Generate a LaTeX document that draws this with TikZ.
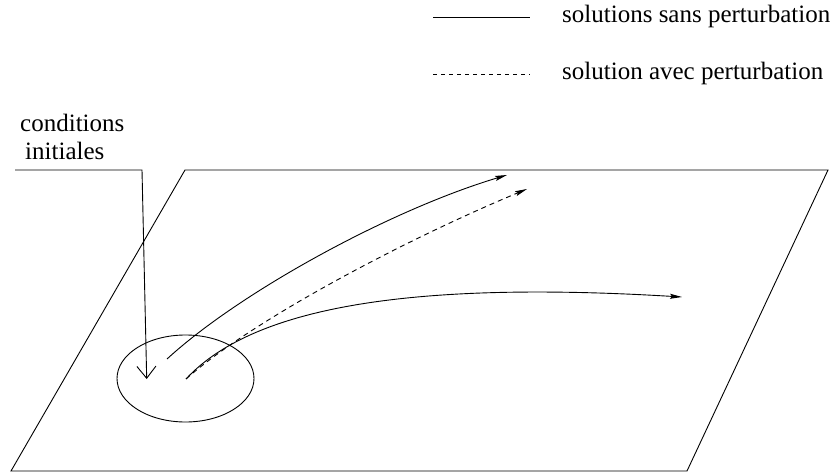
\documentclass[tikz,border=0pt]{standalone}
\usepackage{fontspec}
\setmainfont{Liberation Serif}
\usetikzlibrary{arrows.meta,shapes.geometric}
\begin{document}
\begin{tikzpicture}[x=1pt,y=-1pt,
  ln/.style={line width=0.9pt},
  traj/.style={ln,-{Stealth[length=12pt,width=5pt,inset=2pt]}},
  lbl/.style={font=\fontsize{25}{30}\selectfont,inner sep=0pt,anchor=base west}]
\useasboundingbox (0,0) rectangle (835,473);
% plane
\coordinate (tl) at (185,170);
\coordinate (tr) at (828,170);
\coordinate (br) at (687,471);
\coordinate (bl) at (11,471);
\draw[ln] (tl) -- (tr) -- (br) -- (bl) -- cycle;
% ellipse
\node[ln,draw,ellipse,minimum width=137pt,minimum height=87pt,inner sep=0pt] (ell) at (185.5,378.5) {};
% legend
\coordinate (l1a) at (433,17);
\coordinate (l1b) at (530,17);
\coordinate (l2a) at (433,74);
\coordinate (l2b) at (530,74);
\draw[ln] (l1a) -- (l1b);
\draw[ln,dash pattern=on 4pt off 4pt] (l2a) -- (l2b);
\node[lbl] (t1) at (562,23) {solutions sans perturbation};
\node[lbl] (t2) at (562,80) {solution avec perturbation};
% initial conditions label
\node[lbl] (c1) at (20,132) {conditions};
\node[lbl] (c2) at (25,160) {initiales};
\coordinate (ca) at (15,170);
\coordinate (cb) at (142,170);
\coordinate (ct) at (146.7,379);
\draw[ln,-{Straight Barb[length=12pt,width=19pt]}] (ca) -- (cb) -- (ct);
% trajectories
\coordinate (s1) at (167,359);
\coordinate (e1) at (507,175);
\coordinate (s2) at (186,379);
\coordinate (e2) at (527,189);
\coordinate (e3) at (682,297);
\draw[traj] (s1) .. controls (240,292) and (390,210) .. (e1);
\draw[traj,dash pattern=on 5pt off 4pt] (s2) .. controls (250,322) and (400,242) .. (e2);
\draw[traj] (s2) .. controls (250,310) and (400,280) .. (e3);
\end{tikzpicture}
\end{document}
